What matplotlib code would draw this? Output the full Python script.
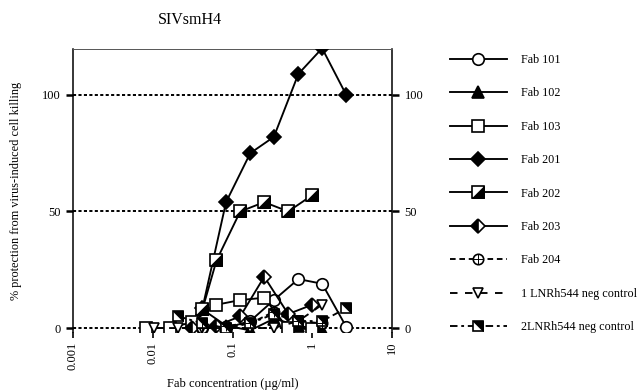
import numpy as np
import matplotlib
matplotlib.use("Agg")
import matplotlib.pyplot as plt
from matplotlib.path import Path
from matplotlib.legend_handler import HandlerTuple

plt.rcParams['font.family'] = ['Liberation Serif', 'DejaVu Serif']

# values
fab101_x = [0.042, 0.083, 0.167, 0.33, 0.67, 1.33, 2.67]
fab101_y = [0, 0, 3, 12, 21, 19, 0.5]
fab102_x = [0.042, 0.083, 0.167, 0.33, 0.67, 1.33]
fab102_y = [8, 1, -1, 4, 1, -1]
fab103_x = [0.0082, 0.0163, 0.031, 0.063, 0.125, 0.25, 0.49, 0.98]
fab103_y = [0, 0, 2.5, 10, 12, 13, 0, -0.5]
fab201_x = [0.042, 0.083, 0.167, 0.33, 0.67, 1.33, 2.67]
fab201_y = [8.5, 54, 75, 82, 109, 120, 100]
fab202_x = [0.042, 0.063, 0.125, 0.25, 0.5, 1.0]
fab202_y = [8, 29, 50, 54, 50, 57]
fab203_x = [0.031, 0.063, 0.125, 0.25, 0.5, 1.0]
fab203_y = [0, 1, 5, 22, 6, 10]
fab204_x = [0.042, 0.083, 0.167, 0.33, 0.67, 1.33]
fab204_y = [0, 1, 2, 7, 3, 2]
neg1_x = [0.0104, 0.021, 0.042, 0.083, 0.167, 0.33, 0.67, 1.33]
neg1_y = [0, 0, 0, 0, 0, 0, 3, 10]
neg2_x = [0.021, 0.042, 0.083, 0.167, 0.33, 0.67, 1.33, 2.67]
neg2_y = [5, 2, 0, 2, 6, 3, 3, 8.5]

labels = ['Fab 101', 'Fab 102', 'Fab 103', 'Fab 201', 'Fab 202', 'Fab 203',
          'Fab 204', '1 LNRh544 neg control', '2LNRh544 neg control']
ticks_x = [0.001, 0.01, 0.1, 1, 10]
ticks_x_lab = ['0.001', '0.01', '0.1', '1', '10']
ticks_y = [0, 50, 100]

tri_lr = Path([(1, 1), (1, -1), (-1, -1), (1, 1)], closed=True)
tri_ur = Path([(-1, 1), (1, 1), (1, -1), (-1, 1)], closed=True)

fig = plt.figure(figsize=(6.42, 3.92), dpi=100)
ax = fig.add_axes([73/642, 1-332/392, (392-73)/642, (332-49)/392])
ax.set_xscale('log')
ax.set_xlim(0.001, 10)
ax.set_ylim(-1.7, 119.7)

lw = 1.35

def series(x, y, marker, face, ls='-', ms=8.3, over=None, over_face='black', **kw):
    h1, = ax.plot(x, y, marker=marker, markerfacecolor=face, linestyle=ls,
                  color='black', lw=lw, markersize=ms, markeredgecolor='black',
                  markeredgewidth=1.2, zorder=3, **kw)
    if over is None:
        return h1
    h2, = ax.plot(x, y, marker=over, markerfacecolor=over_face,
                  markeredgecolor='black', markeredgewidth=0.7,
                  markersize=ms, linestyle='none', zorder=4)
    return (h1, h2)

handles = []
handles.append(series(fab101_x, fab101_y, 'o', 'white'))
handles.append(series(fab102_x, fab102_y, '^', 'black'))
handles.append(series(fab103_x, fab103_y, 's', 'white', ms=8))
handles.append(series(fab201_x, fab201_y, 'D', 'black', ms=6.8))
handles.append(series(fab202_x, fab202_y, 's', 'white', ms=8, over=tri_lr))
handles.append(series(fab203_x, fab203_y, 'D', 'black', ms=6.8, fillstyle='left',
                      markerfacecoloralt='white'))
handles.append(series(fab204_x, fab204_y, 'o', 'white', ls=(0, (3, 2)), ms=7.5,
                      over='+', over_face='black'))
handles.append(series(neg1_x, neg1_y, 'v', 'white', ls=(0, (4, 4)), ms=7.5))
handles.append(series(neg2_x, neg2_y, 's', 'white', ls=(0, (4, 2, 1.5, 2)), ms=7.5,
                      over=tri_ur))

for yv in ticks_y:
    ax.axhline(yv, color='black', lw=1.4, ls=(0, (1.6, 1.2)), zorder=1)

ax.spines['bottom'].set_visible(False)
ax.spines['top'].set_linewidth(0.7)
ax.spines['top'].set_color('#555555')
ax.spines['left'].set_linewidth(1.1)
ax.spines['right'].set_linewidth(1.1)

ax.set_xticks(ticks_x)
ax.set_xticklabels(ticks_x_lab, rotation=90, fontsize=9)
ax.xaxis.set_minor_locator(matplotlib.ticker.NullLocator())
ax.tick_params(axis='x', direction='out', length=4, width=1.2, pad=3)
ax.set_yticks(ticks_y)
ax.tick_params(axis='y', direction='out', length=5, width=1.8, labelsize=9,
               right=True, labelright=True, pad=4)

ax.set_xlabel('Fab concentration (\u00b5g/ml)', fontsize=9, labelpad=6)
ax.set_ylabel('% protection from virus-induced cell killing', fontsize=8.8,
              labelpad=14)
fig.text(190/642, 1-20/392, 'SIVsmH4', fontsize=11.5, ha='center', va='center')

leg = fig.legend(handles, labels, loc='upper left',
                 bbox_to_anchor=(444/642, 1-48/392), frameon=False,
                 fontsize=8.7, handlelength=4.7, handletextpad=1.2,
                 labelspacing=1.77, borderpad=0,
                 handler_map={tuple: HandlerTuple(ndivide=1, pad=0)})

fig.savefig('out.png', dpi=100)
